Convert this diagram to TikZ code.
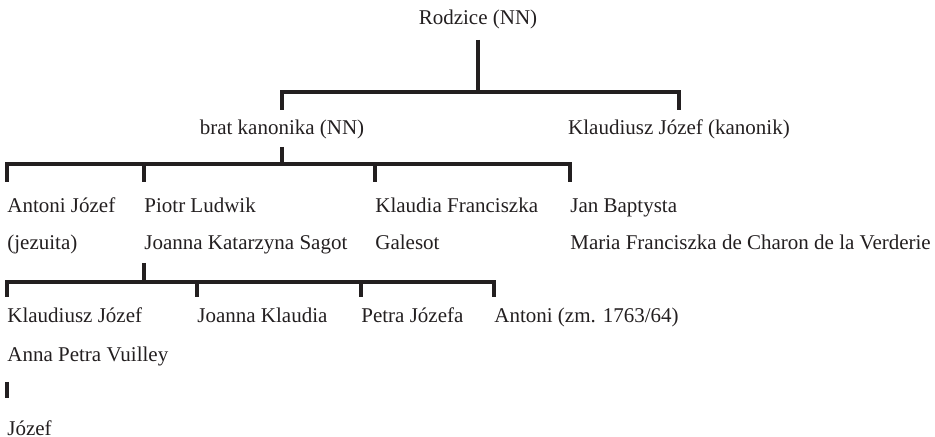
\documentclass[tikz,border=0pt]{standalone}
\usepackage{fontspec}
\setmainfont{Liberation Serif}
\usepackage{tikz}
\usetikzlibrary{positioning}

\definecolor{inkblack}{RGB}{35,31,32}

\tikzset{
    person/.style={inner sep=0pt, anchor=base west, align=left, text=inkblack, font=\fontsize{10.5}{18.5}\selectfont},
    head/.style={inner sep=0pt, anchor=base, text=inkblack, font=\fontsize{10.5}{18.5}\selectfont},
    tree/.style={line width=1.6pt, inkblack}
}

\begin{document}
\begin{tikzpicture}[x=0.5pt, y=-0.5pt]
    \useasboundingbox (0,0) rectangle (935,437);
    % Parents and their sons
    \node[head] (rodzice) at (478,25) {Rodzice (NN)};
    \node[head] (brat) at (282,135) {brat kanonika (NN)};
    \node[head] (kanonik) at (679,135) {Klaudiusz Józef (kanonik)};
    % Children of the brother (base = second line)
    \node[person] (antoni) at (7,250) {Antoni Józef\\(jezuita)};
    \node[person] (piotr) at (144,250) {Piotr Ludwik\\Joanna Katarzyna Sagot};
    \node[person] (klaudia) at (375,250) {Klaudia Franciszka\\Galesot};
    \node[person] (jan) at (570,250) {Jan Baptysta\\Maria Franciszka de Charon de la Verderie};
    % Grandchildren
    \node[person, font=\fontsize{10.5}{19.5}\selectfont] (klaudiusz) at (7,362) {Klaudiusz Józef\\Anna Petra Vuilley};
    \node[person] (joanna) at (197,323) {Joanna Klaudia};
    \node[person] (petra) at (361,323) {Petra Józefa};
    \node[person] (antoni2) at (494,323) {Antoni (zm. 1763/64)};
    \node[person] (jozef) at (7,435) {Józef};

    % Bars
    \coordinate (bar1) at (0,92);
    \coordinate (bar2) at (0,164);
    \coordinate (bar3) at (0,282);

    % First generation
    \draw[tree] ([yshift=-7.5pt]rodzice.base) -- (rodzice.base |- bar1);
    \draw[tree] ([yshift=12.5pt]brat.base) -- (brat.base |- bar1) -- (kanonik.base |- bar1) -- ([yshift=12.5pt]kanonik.base);
    % Second generation
    \draw[tree] ([yshift=-6pt]brat.base) -- (brat.base |- bar2);
    \draw[tree] ([yshift=34pt]antoni.base west) -- (antoni.base west |- bar2) -- (jan.base west |- bar2) -- ([yshift=34pt]jan.base west);
    \foreach \n in {piotr,klaudia} {
        \draw[tree] ([yshift=34pt]\n.base west) -- (\n.base west |- bar2);
    }
    % Third generation
    \draw[tree] ([yshift=-6.5pt]piotr.base west) -- (piotr.base west |- bar3);
    \draw[tree] ([yshift=32.5pt]klaudiusz.base west) -- (klaudiusz.base west |- bar3) -- (antoni2.base west |- bar3) -- ([yshift=13pt]antoni2.base west);
    \foreach \n in {joanna,petra} {
        \draw[tree] ([yshift=13pt]\n.base west) -- (\n.base west |- bar3);
    }
    % Last
    \draw[tree] ([yshift=-10pt]klaudiusz.base west) -- ([yshift=18.5pt]jozef.base west);
\end{tikzpicture}
\end{document}
